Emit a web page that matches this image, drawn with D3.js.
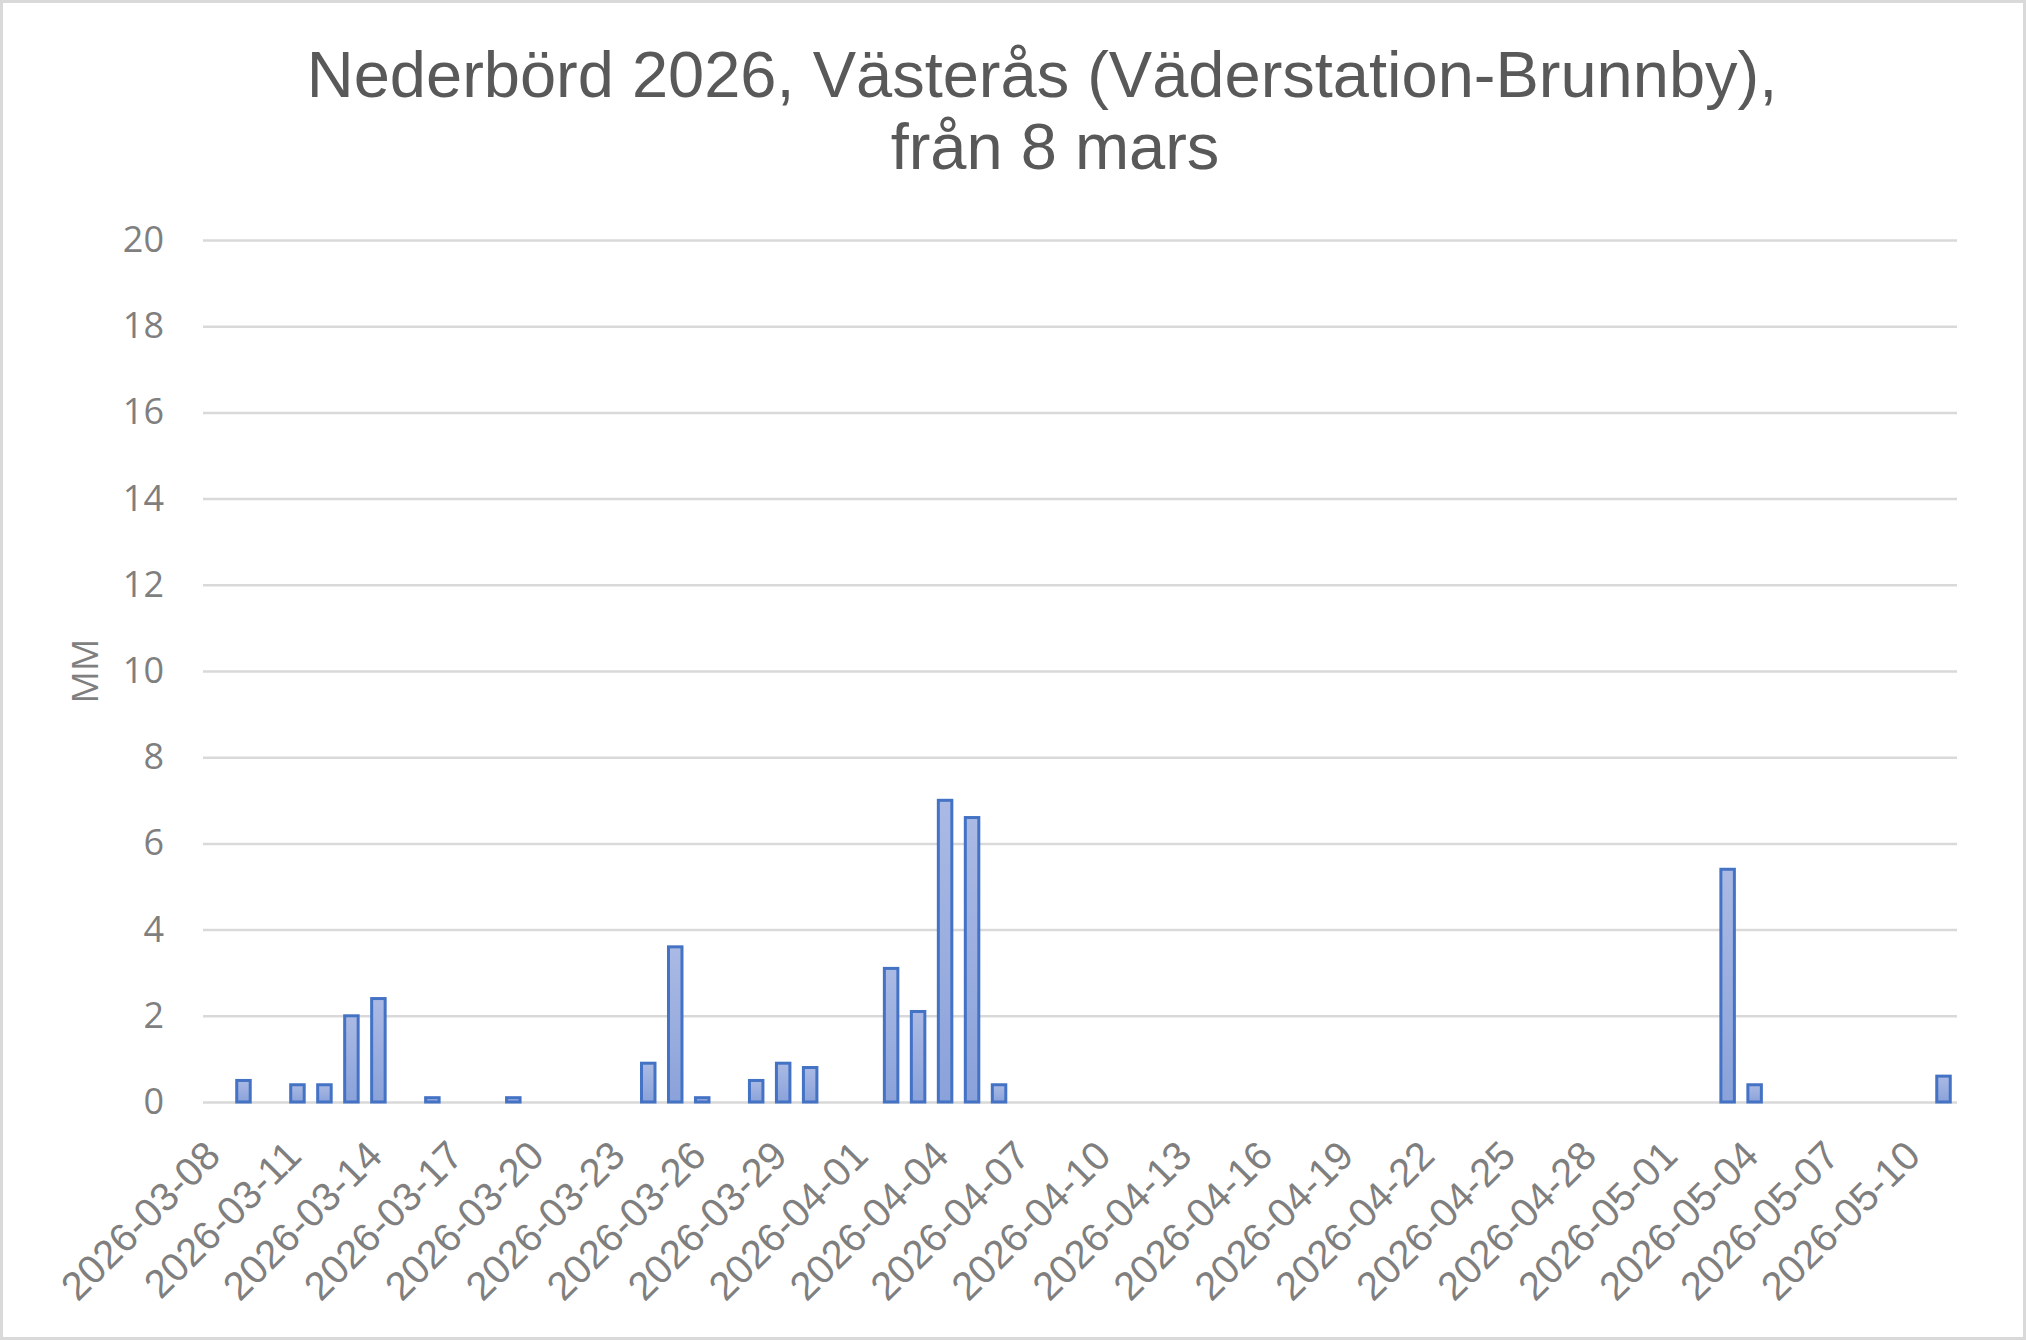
<!DOCTYPE html>
<html>
<head>
    <script src="https://d3js.org/d3.v7.min.js"></script>
<style>
    body { margin: 0; background: #fff; }
    .grid line {
        stroke: #d9d9d9;
        stroke-width: 2.5px;
    }
    .grid path { display: none; }
    .bar {
        fill: url(#barFill);
        stroke: #4472c4;
        stroke-width: 3px;
    }
</style>
</head>
<body>
<svg width="2026" height="1340"></svg>

<script>
// dagar, 8 mars - 11 maj 2026
var dates = [
    "2026-03-08", "2026-03-09", "2026-03-10", "2026-03-11", "2026-03-12", "2026-03-13", "2026-03-14",
    "2026-03-15", "2026-03-16", "2026-03-17", "2026-03-18", "2026-03-19", "2026-03-20", "2026-03-21",
    "2026-03-22", "2026-03-23", "2026-03-24", "2026-03-25", "2026-03-26", "2026-03-27", "2026-03-28",
    "2026-03-29", "2026-03-30", "2026-03-31", "2026-04-01", "2026-04-02", "2026-04-03", "2026-04-04",
    "2026-04-05", "2026-04-06", "2026-04-07", "2026-04-08", "2026-04-09", "2026-04-10", "2026-04-11",
    "2026-04-12", "2026-04-13", "2026-04-14", "2026-04-15", "2026-04-16", "2026-04-17", "2026-04-18",
    "2026-04-19", "2026-04-20", "2026-04-21", "2026-04-22", "2026-04-23", "2026-04-24", "2026-04-25",
    "2026-04-26", "2026-04-27", "2026-04-28", "2026-04-29", "2026-04-30", "2026-05-01", "2026-05-02",
    "2026-05-03", "2026-05-04", "2026-05-05", "2026-05-06", "2026-05-07", "2026-05-08", "2026-05-09",
    "2026-05-10", "2026-05-11"
];

// nederbörd i mm per dag
var rain = [
    0, 0.5, 0, 0.4, 0.4, 2.0, 2.4,
    0, 0.1, 0, 0, 0.1, 0, 0,
    0, 0, 0.9, 3.6, 0.1, 0, 0.5,
    0.9, 0.8, 0, 0, 3.1, 2.1, 7.0,
    6.6, 0.4, 0, 0, 0, 0, 0,
    0, 0, 0, 0, 0, 0, 0,
    0, 0, 0, 0, 0, 0, 0,
    0, 0, 0, 0, 0, 0, 0,
    5.4, 0.4, 0, 0, 0, 0, 0,
    0, 0.6
];

var yTicks = [0, 2, 4, 6, 8, 10, 12, 14, 16, 18, 20];
var titleLines = ["Nederbörd 2026, Västerås (Väderstation-Brunnby),", "från 8 mars"];
var yLabel = "MM";

var svg = d3.select("svg"),
    W = +svg.attr("width"),
    H = +svg.attr("height"),
    margin = {top: 240, right: 69, bottom: 238, left: 203},
    width = W - margin.left - margin.right,
    height = H - margin.top - margin.bottom;

// chart border
svg.append("rect")
    .attr("x", 1.5).attr("y", 1.5)
    .attr("width", W - 3).attr("height", H - 3)
    .attr("fill", "#fff")
    .attr("stroke", "#d9d9d9")
    .attr("stroke-width", 3);

var grad = svg.append("defs").append("linearGradient")
    .attr("id", "barFill")
    .attr("x1", 0).attr("y1", 0).attr("x2", 0).attr("y2", 1);
grad.append("stop").attr("offset", "0%").attr("stop-color", "#abbae4");
grad.append("stop").attr("offset", "100%").attr("stop-color", "#8aa2da");

svg.selectAll(".title")
    .data(titleLines)
    .enter().append("text")
    .attr("class", "title")
    .attr("x", function (d, i) { return i === 0 ? 1042 : 1055; })
    .attr("y", function (d, i) { return 97 + i * 72; })
    .attr("text-anchor", "middle")
    .style("font", "65px 'Liberation Sans', Arial, sans-serif")
    .style("fill", "#595959")
    .text(function (d) { return d; });

var g = svg.append("g").attr("transform", "translate(" + margin.left + "," + margin.top + ")");

var x = d3.scaleBand()
    .domain(dates)
    .range([0, width])
    .paddingInner(0.5)
    .paddingOuter(0.25);

var y = d3.scaleLinear()
    .domain([0, 20])
    .range([height, 0]);

// gridlines + y labels
var yAxis = g.append("g")
    .attr("class", "grid")
    .call(d3.axisLeft(y).tickValues(yTicks).tickSize(-width).tickPadding(39));
yAxis.selectAll("text")
    .style("font", "36px 'Open Sans', sans-serif")
    .style("fill", "#7f7f7f");

g.append("text")
    .attr("transform", "translate(" + (98 - margin.left) + "," + (height / 2) + ") rotate(-90)")
    .attr("text-anchor", "middle")
    .style("font", "36px 'Open Sans', sans-serif")
    .style("fill", "#7f7f7f")
    .text(yLabel);

// x labels, every third day
var tickDates = dates.filter(function (d, i) { return i % 3 === 0; });
g.selectAll(".xlab")
    .data(tickDates)
    .enter().append("text")
    .attr("class", "xlab")
    .attr("transform", function (d) {
        return "translate(" + (x(d) + x.bandwidth() / 2 + 6) + "," + (height + 56) + ") rotate(-45)";
    })
    .attr("text-anchor", "end")
    .style("font", "40px 'Liberation Sans', Arial, sans-serif")
    .style("fill", "#7f7f7f")
    .text(function (d) { return d; });

var rows = dates.map(function (d, i) { return {date: d, mm: rain[i]}; })
    .filter(function (d) { return d.mm > 0; });

g.selectAll(".bar")
    .data(rows)
    .enter().append("rect")
    .attr("class", "bar")
    .attr("x", function (d) { return x(d.date); })
    .attr("width", x.bandwidth())
    .attr("y", function (d) { return y(d.mm); })
    .attr("height", function (d) { return height - y(d.mm); });
</script>

</body>
</html>
